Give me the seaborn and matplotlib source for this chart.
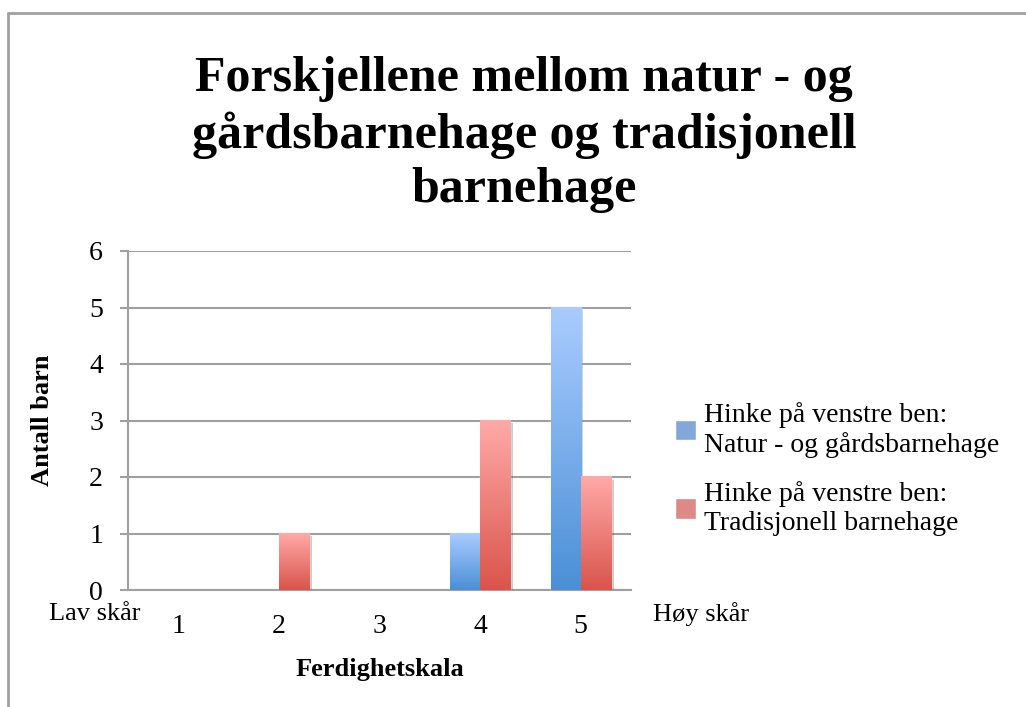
import numpy as np
import pandas as pd
import seaborn as sns
import matplotlib.pyplot as plt
from matplotlib.lines import Line2D
from matplotlib.colors import LinearSegmentedColormap
import matplotlib.patheffects as pe

# data
categories = ["1", "2", "3", "4", "5"]
natur = [0, 0, 0, 1, 5]
tradisjonell = [0, 1, 0, 3, 2]
series_names = ["Hinke på venstre ben:\nNatur - og gårdsbarnehage",
                "Hinke på venstre ben:\nTradisjonell barnehage"]
y_ticks = [0, 1, 2, 3, 4, 5, 6]

df = pd.DataFrame({
    "Ferdighetskala": categories * 2,
    "Antall barn": natur + tradisjonell,
    "serie": [series_names[0]] * 5 + [series_names[1]] * 5,
})

sns.set_style("white", {"text.color": "black", "axes.labelcolor": "black",
                        "xtick.color": "black", "ytick.color": "black"})
plt.rcParams['font.family'] = ['Liberation Serif', 'DejaVu Serif']

blue_mid, red_mid = "#72a6e8", "#ec7b76"
grads = [LinearSegmentedColormap.from_list("b", ["#4a8fd6", "#aaccff"]),
         LinearSegmentedColormap.from_list("r", ["#d9544b", "#ffaaa8"])]

fig = plt.figure(figsize=(10.26, 7.07), dpi=100)
ax = fig.add_axes([128/1026, 1-590/707, 503/1026, 339/707])

sns.barplot(data=df, x="Ferdighetskala", y="Antall barn", hue="serie",
            order=categories, hue_order=series_names,
            palette=[blue_mid, red_mid], width=0.6, ax=ax, zorder=3)

# gradient fill on each bar
bars_per = len(categories)
grad = np.linspace(0, 1, 256).reshape(-1, 1)
for i, p in enumerate(ax.patches[:2 * bars_per]):
    h = p.get_height()
    if h <= 0:
        p.set_visible(False)
        continue
    x0, w = p.get_x(), p.get_width()
    p.set_path_effects([pe.SimplePatchShadow(offset=(2, -2), alpha=0.25), pe.Normal()])
    ax.imshow(grad, cmap=grads[i // bars_per], origin="lower", aspect="auto",
              extent=[x0, x0 + w, 0, h], zorder=4)

ax.set_xlim(-0.5, len(categories) - 0.5)
ax.set_ylim(0, 6)
ax.set_yticks(y_ticks)
ax.set_aspect("auto")

grid_c = "#a0a0a0"
ax.yaxis.grid(True, color=grid_c, linewidth=1.5, zorder=0)
ax.set_axisbelow(True)
for s in ["top", "right"]:
    ax.spines[s].set_visible(False)
for s in ["left", "bottom"]:
    ax.spines[s].set_color(grid_c)
    ax.spines[s].set_linewidth(1.5)

ax.set_xticks(np.arange(len(categories)))
ax.set_xticklabels(categories)
ax.set_xticks(np.arange(-0.5, len(categories)), minor=True)
ax.tick_params(axis="x", which="major", length=0, pad=17, labelsize=20)
ax.tick_params(axis="x", which="minor", length=7, width=1.5, color=grid_c, direction="out")
ax.tick_params(axis="y", length=6, width=1.5, color=grid_c, direction="out", pad=12, labelsize=20, left=True)

ax.set_xlabel("Ferdighetskala", fontsize=19, fontweight="bold", labelpad=14)
ax.set_ylabel("Antall barn", fontsize=19, fontweight="bold", labelpad=25)

fig.text(95/1026, 1-614/707, "Lav skår", fontsize=19, ha="center", va="center")
fig.text(701/1026, 1-614/707, "Høy skår", fontsize=19, ha="center", va="center")

leg = ax.legend(loc="upper left", bbox_to_anchor=(650/1026, 1-377/707),
                bbox_transform=fig.transFigure, frameon=False, fontsize=20,
                handlelength=0.75, handleheight=0.75, handletextpad=0.3,
                labelspacing=0.85, title=None)

fig.text(524/1026, 1-56/707,
         "Forskjellene mellom natur - og\ngårdsbarnehage og tradisjonell\nbarnehage",
         fontsize=36, fontweight="bold", ha="center", va="top", linespacing=1.25)

# chart area border (top and left)
fig.add_artist(Line2D([8/1026, 1], [1-13/707, 1-13/707], color="#a0a0a0", linewidth=2,
                      transform=fig.transFigure))
fig.add_artist(Line2D([8/1026, 8/1026], [0, 1-13/707], color="#a0a0a0", linewidth=2,
                      transform=fig.transFigure))

fig.savefig("out.png", dpi=100)
